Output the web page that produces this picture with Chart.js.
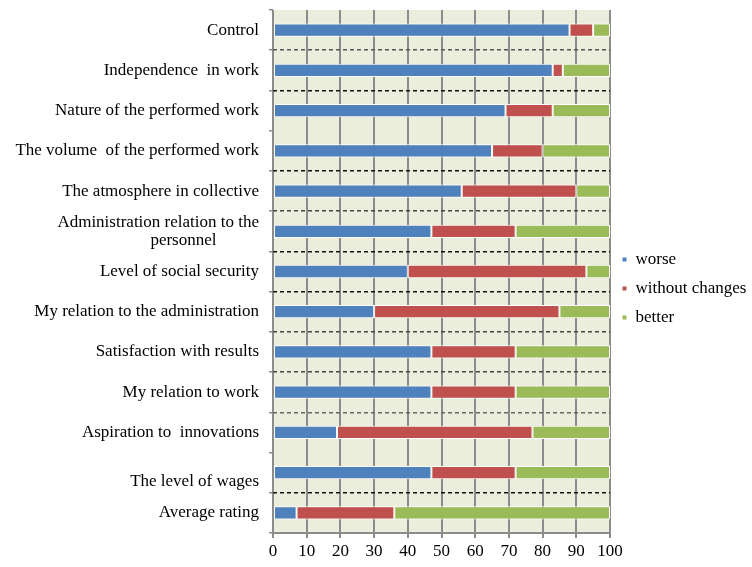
<!DOCTYPE html>
<html>
<head>
<meta charset="utf-8">
<script src="https://cdn.jsdelivr.net/npm/chart.js@4/dist/chart.umd.min.js"></script>
<style>
  html, body { margin: 0; padding: 0; background: #fff; }
  #wrap { width: 752px; height: 567px; }
</style>
</head>
<body>
<div id="wrap"><canvas id="chart" width="752" height="567"></canvas></div>
<script>
// categories, top to bottom
const categories = [
    'Control',
    'Independence  in work',
    'Nature of the performed work',
    'The volume  of the performed work',
    'The atmosphere in collective',
    ['Administration relation to the', 'personnel          '],
    'Level of social security',
    'My relation to the administration',
    'Satisfaction with results',
    'My relation to work',
    'Aspiration to  innovations',
    ['', 'The level of wages'],
    'Average rating'
];

// shares, %
const worse          = [88, 83, 69, 65, 56, 47, 40, 30, 47, 47, 19, 47, 7];
const withoutChanges = [7, 3, 14, 15, 34, 25, 53, 55, 25, 25, 58, 25, 29];
const better         = [5, 14, 17, 20, 10, 28, 7, 15, 28, 28, 23, 28, 64];

const xTicks = [0, 10, 20, 30, 40, 50, 60, 70, 80, 90, 100];

// colour of the dotted separators between rows (top to bottom)
const rowLineColors = ['rgba(0,0,0,0)', '#555', '#111', 'rgba(0,0,0,0)', '#111', '#444', '#111',
    '#111', '#444', '#444', '#666', 'rgba(0,0,0,0)', '#111', 'rgba(0,0,0,0)'];

const plotBg = {
    id: 'plotBg',
    beforeLayout(chart) {
        // keep the legend column as wide as in the original
        const lg = chart.legend;
        if (lg && !lg._wide) {
            const fit = lg.fit.bind(lg);
            lg.fit = function () { fit(); this.width = 142; };
            lg._wide = true;
        }
    },
    beforeDraw(chart) {
        const { ctx, chartArea: a } = chart;
        ctx.save();
        ctx.fillStyle = '#ebeedd';
        ctx.fillRect(a.left, a.top, a.right - a.left, a.bottom - a.top);
        ctx.restore();
    }
};

const fontFamily = '"Liberation Serif", "DejaVu Serif", serif';

new Chart(document.getElementById('chart'), {
    type: 'bar',
    data: {
        labels: categories,
        datasets: [
            { label: 'worse', data: worse, backgroundColor: '#4f81bd' },
            { label: 'without changes', data: withoutChanges, backgroundColor: '#c0504d' },
            { label: 'better', data: better, backgroundColor: '#9bbb59' }
        ]
    },
    options: {
        indexAxis: 'y',
        responsive: false,
        animation: false,
        layout: { padding: { top: 10, left: 4, right: 0, bottom: 0 } },
        datasets: {
            bar: {
                borderColor: '#ffffff',
                borderWidth: 1,
                borderSkipped: false,
                categoryPercentage: 1,
                barPercentage: 0.33
            }
        },
        scales: {
            x: {
                stacked: true,
                min: 0,
                max: 100,
                afterBuildTicks(scale) {
                    scale.ticks = xTicks.map(v => ({ value: v }));
                },
                afterFit(scale) { scale.height = 34; },
                ticks: { color: '#000', font: { family: fontFamily, size: 17 }, padding: 3, maxRotation: 0 },
                grid: { color: '#8c8c8c', lineWidth: 2, tickLength: 5, tickColor: '#8c8c8c' },
                border: { color: '#8c8c8c', width: 2 }
            },
            y: {
                stacked: true,
                afterFit(scale) {
                    scale.width = 269;
                    scale.paddingTop = 0;
                    scale.paddingBottom = 0;
                },
                ticks: { color: '#000', font: { family: fontFamily, size: 17, lineHeight: 1.05 }, padding: 10 },
                grid: {
                    offset: true,
                    color: ctx => rowLineColors[ctx.index] || 'rgba(0,0,0,0)',
                    lineWidth: 1.5,
                    tickColor: '#8c8c8c',
                    tickLength: 4
                },
                border: { display: false, dash: [4, 3] }
            }
        },
        plugins: {
            legend: {
                position: 'right',
                labels: {
                    color: '#000',
                    font: { family: fontFamily, size: 17 },
                    boxWidth: 5,
                    boxHeight: 5,
                    padding: 12
                }
            },
            tooltip: { enabled: false }
        }
    },
    plugins: [plotBg]
});
</script>
</body>
</html>
